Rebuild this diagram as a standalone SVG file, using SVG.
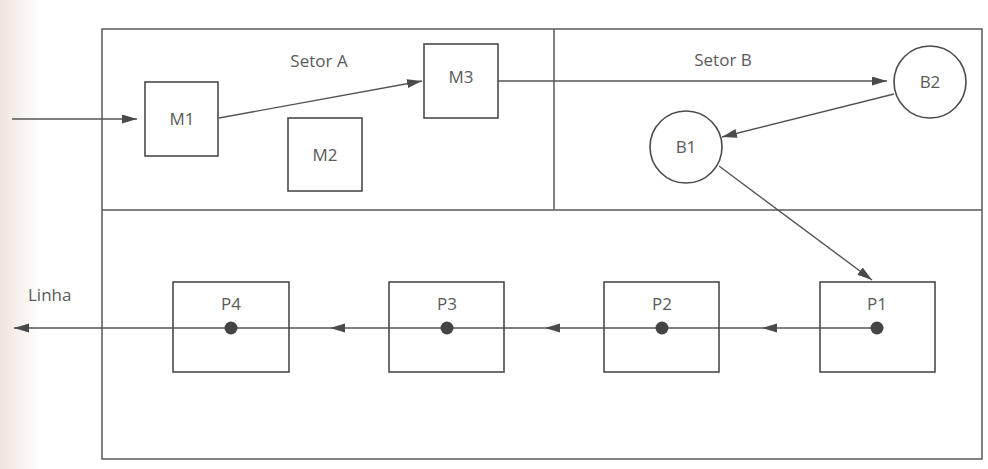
<svg xmlns="http://www.w3.org/2000/svg" width="988" height="469" viewBox="0 0 988 469">
<defs>
<linearGradient id="edge" x1="0" y1="0" x2="1" y2="0">
<stop offset="0" stop-color="#efe4de"/>
<stop offset="1" stop-color="#ffffff"/>
</linearGradient>
<marker id="ah" markerUnits="userSpaceOnUse" markerWidth="16" markerHeight="10" refX="15" refY="4.5" orient="auto">
<path d="M0,0 L15,4.5 L0,9 z" fill="#4a4a4a"/>
</marker>
<style>
.frame{fill:none;stroke:#5a5a5a;stroke-width:1.5}
.box{fill:none;stroke:#4a4a4a;stroke-width:1.6}
.lbl{font-family:"Open Sans","Liberation Sans",sans-serif;font-size:17px;fill:#5a5a5a;text-anchor:middle}
.conn{fill:none;stroke:#555;stroke-width:1.4}
.dot{fill:#444}
</style>
</defs>
<rect width="988" height="469" fill="#ffffff"/>
<rect x="0" y="0" width="40" height="469" fill="url(#edge)"/>
<g id="frame">
<rect class="frame" x="102" y="29" width="880" height="430"/>
<line class="frame" x1="102" y1="210" x2="982" y2="210"/>
<line class="frame" x1="554" y1="29" x2="554" y2="210"/>
<text class="lbl" x="319" y="67">Setor A</text>
<text class="lbl" x="723" y="66">Setor B</text>
</g>
<g id="connectors">
<line class="conn" x1="12" y1="119" x2="137" y2="119" marker-end="url(#ah)"/>
<line class="conn" x1="219" y1="118" x2="422" y2="81" marker-end="url(#ah)"/>
<line class="conn" x1="498" y1="81" x2="887" y2="81" marker-end="url(#ah)"/>
<line class="conn" x1="894" y1="94" x2="722" y2="137" marker-end="url(#ah)"/>
<line class="conn" x1="719" y1="166" x2="872" y2="280" marker-end="url(#ah)"/>
<line class="conn" x1="877" y1="328" x2="762" y2="328" marker-end="url(#ah)"/>
<line class="conn" x1="762" y1="328" x2="545" y2="328" marker-end="url(#ah)"/>
<line class="conn" x1="545" y1="328" x2="330" y2="328" marker-end="url(#ah)"/>
<line class="conn" x1="330" y1="328" x2="14" y2="328" marker-end="url(#ah)"/>
</g>
<g id="M1">
<rect class="box" x="145" y="82" width="73" height="74"/>
<text class="lbl" x="182" y="125">M1</text>
</g>
<g id="M2">
<rect class="box" x="288" y="118" width="74" height="73"/>
<text class="lbl" x="325" y="161">M2</text>
</g>
<g id="M3">
<rect class="box" x="424" y="44" width="74" height="74"/>
<text class="lbl" x="461" y="83">M3</text>
</g>
<g id="B2">
<circle class="box" cx="930" cy="82" r="36"/>
<text class="lbl" x="930" y="88">B2</text>
</g>
<g id="B1">
<circle class="box" cx="686" cy="147" r="36"/>
<text class="lbl" x="686" y="153">B1</text>
</g>
<g id="P1">
<rect class="box" x="820" y="282" width="115" height="90"/>
<text class="lbl" x="877" y="310">P1</text>
<circle class="dot" cx="877" cy="328" r="6.5"/>
</g>
<g id="P2">
<rect class="box" x="604" y="282" width="115" height="90"/>
<text class="lbl" x="662" y="310">P2</text>
<circle class="dot" cx="662" cy="328" r="6.5"/>
</g>
<g id="P3">
<rect class="box" x="389" y="282" width="115" height="90"/>
<text class="lbl" x="447" y="310">P3</text>
<circle class="dot" cx="447" cy="328" r="6.5"/>
</g>
<g id="P4">
<rect class="box" x="173" y="282" width="116" height="90"/>
<text class="lbl" x="231" y="310">P4</text>
<circle class="dot" cx="231" cy="328" r="6.5"/>
</g>
<g id="linha">
<text class="lbl" x="28" y="301" style="text-anchor:start">Linha</text>
</g>
</svg>
